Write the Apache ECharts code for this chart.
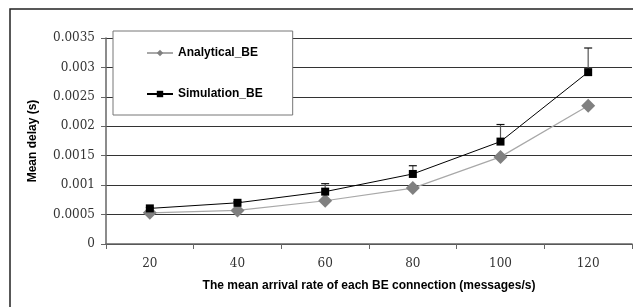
<!DOCTYPE html>
<html>
<head>
<meta charset="utf-8">
<script src="https://cdn.jsdelivr.net/npm/echarts@6/dist/echarts.min.js"></script>
<style>
  html, body { margin: 0; padding: 0; background: #fff; }
  #chart { width: 633px; height: 307px; }
</style>
</head>
<body>
<div id="chart"></div>
<script>
// arrival rate categories (messages/s)
const rates = ['20', '40', '60', '80', '100', '120'];
const analytical = [0.00053, 0.00057, 0.000735, 0.00095, 0.00148, 0.00235];
const simulation = [0.000605, 0.0007, 0.00089, 0.00119, 0.00174, 0.00292];
// upper end of the simulation error bars
const simUpper = [0.00062, 0.00072, 0.001025, 0.00133, 0.00203, 0.00333];

const chart = echarts.init(document.getElementById('chart'));

const labelFont = 'DejaVu Serif';
const titleFont = 'Liberation Sans';

chart.setOption({
  animation: false,
  backgroundColor: '#fff',
  graphic: [
    {
      type: 'rect',
      shape: { x: 10, y: 9, width: 700, height: 400 },
      style: { fill: 'none', stroke: '#222', lineWidth: 1.5 },
      z: 0
    }
  ],
  grid: { left: 106, right: 1, top: 38, bottom: 63 },
  legend: {
    orient: 'vertical',
    left: 113,
    top: 31,
    padding: [16, 30, 15, 33],
    itemGap: 29,
    itemWidth: 26,
    itemHeight: 8,
    backgroundColor: '#fff',
    borderColor: '#777',
    borderWidth: 1,
    borderRadius: 0,
    textStyle: { fontFamily: titleFont, fontWeight: 'bold', fontSize: 12, color: '#000' },
    data: ['Analytical_BE', 'Simulation_BE'],
    z: 10
  },
  xAxis: {
    type: 'category',
    data: rates,
    boundaryGap: true,
    name: 'The mean arrival rate of each BE connection (messages/s)',
    nameLocation: 'middle',
    nameGap: 36,
    nameTextStyle: { fontFamily: titleFont, fontWeight: 'bold', fontSize: 12, color: '#000' },
    axisLine: { lineStyle: { color: '#666', width: 1.5 } },
    axisTick: { show: true, length: 5, lineStyle: { color: '#666' } },
    axisLabel: { fontFamily: labelFont, fontSize: 12, color: '#333', margin: 14 },
    splitLine: { show: false }
  },
  yAxis: {
    type: 'value',
    min: 0,
    max: 0.0035,
    interval: 0.0005,
    name: 'Mean delay (s)',
    nameLocation: 'middle',
    nameGap: 67,
    nameTextStyle: { fontFamily: titleFont, fontWeight: 'bold', fontSize: 12, color: '#000' },
    axisLine: { show: true, lineStyle: { color: '#666', width: 1.5 } },
    axisTick: { show: true, length: 5, lineStyle: { color: '#666' } },
    axisLabel: {
      fontFamily: labelFont, fontSize: 12, color: '#333', margin: 11,
      formatter: v => (v === 0 ? '0' : String(+v.toFixed(4)))
    },
    splitLine: { show: true, lineStyle: { color: '#333', width: 1 } }
  },
  series: [
    {
      name: 'Analytical_BE',
      type: 'line',
      data: analytical,
      symbol: 'diamond',
      symbolSize: 14,
      itemStyle: { color: '#808080' },
      lineStyle: { color: '#a8a8a8', width: 1.2 },
      z: 3
    },
    {
      name: 'Simulation_BE',
      type: 'line',
      data: simulation,
      symbol: 'rect',
      symbolSize: 8,
      itemStyle: { color: '#000' },
      lineStyle: { color: '#000', width: 1 },
      z: 4
    },
    {
      name: 'error',
      type: 'custom',
      data: simulation.map((v, i) => [i, v, simUpper[i]]),
      renderItem: (params, api) => {
        const base = api.coord([api.value(0), api.value(1)]);
        const top = api.coord([api.value(0), api.value(2)]);
        return {
          type: 'group',
          children: [
            { type: 'line', shape: { x1: base[0], y1: base[1], x2: top[0], y2: top[1] },
              style: { stroke: '#555', lineWidth: 1.2 } },
            { type: 'line', shape: { x1: top[0] - 4, y1: top[1], x2: top[0] + 4, y2: top[1] },
              style: { stroke: '#111', lineWidth: 1.2 } }
          ]
        };
      },
      z: 2
    }
  ]
});
</script>
</body>
</html>
